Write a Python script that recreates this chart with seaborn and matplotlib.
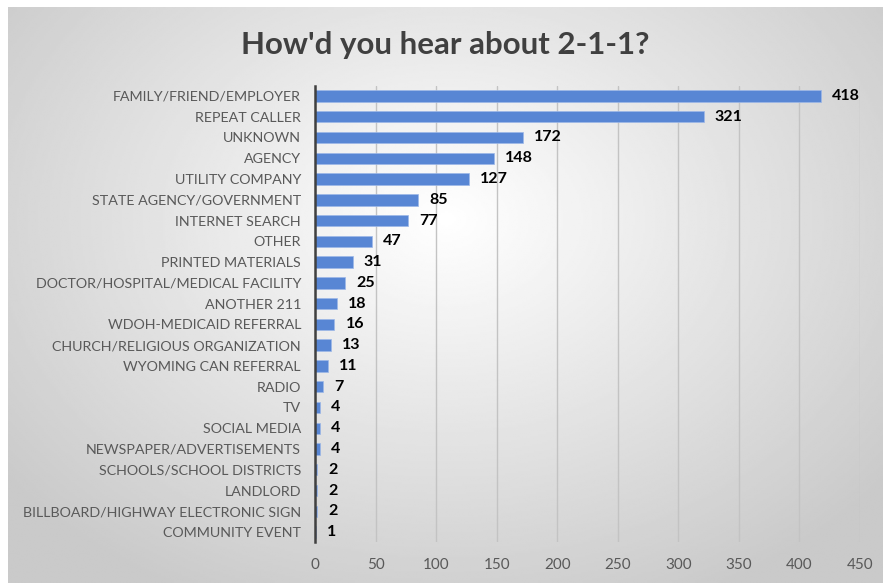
import numpy as np
import pandas as pd
import seaborn as sns
import matplotlib.pyplot as plt

# --- Datos ---
categories = [
    "FAMILY/FRIEND/EMPLOYER", "REPEAT CALLER", "UNKNOWN", "AGENCY",
    "UTILITY COMPANY", "STATE AGENCY/GOVERNMENT", "INTERNET SEARCH", "OTHER",
    "PRINTED MATERIALS", "DOCTOR/HOSPITAL/MEDICAL FACILITY", "ANOTHER 211",
    "WDOH-MEDICAID REFERRAL", "CHURCH/RELIGIOUS ORGANIZATION",
    "WYOMING CAN REFERRAL", "RADIO", "TV", "SOCIAL MEDIA",
    "NEWSPAPER/ADVERTISEMENTS", "SCHOOLS/SCHOOL DISTRICTS", "LANDLORD",
    "BILLBOARD/HIGHWAY ELECTRONIC SIGN", "COMMUNITY EVENT",
]
counts = [418, 321, 172, 148, 127, 85, 77, 47, 31, 25, 18, 16, 13, 11, 7, 4, 4, 4, 2, 2, 2, 1]
x_ticks = [0, 50, 100, 150, 200, 250, 300, 350, 400, 450]

df = pd.DataFrame({"source": categories, "count": counts})

sns.set_theme(style="white")
plt.rcParams["font.family"] = ["Lato", "DejaVu Sans"]

fig = plt.figure(figsize=(8.83, 5.83), dpi=100)

# --- Fondo con degradado radial ---
bg = fig.add_axes([8 / 883, 0, 875 / 883, 576 / 583], zorder=-1)
yy, xx = np.mgrid[0:300, 0:450]
t = np.sqrt(((xx - 225) / 290.0) ** 2 + ((yy - 110) / 220.0) ** 2)
t = np.clip(t, 0, 1)
grad = 1.0 - t * (1.0 - 0.79)
bg.imshow(grad, cmap="gray", vmin=0, vmax=1, aspect="auto", interpolation="bilinear")
bg.axis("off")

# --- Gráfico principal ---
ax = fig.add_axes([315 / 883, 0.0696, 545 / 883, 0.8532 - 0.0696])
ax.set_facecolor("none")
sns.barplot(data=df, x="count", y="source", orient="h", color="#5886D4",
            saturation=1, width=0.55, ax=ax, edgecolor="#9DB8E8", linewidth=0.5)

ax.bar_label(ax.containers[0], labels=[str(v) for v in counts], padding=8,
             fontsize=11.5, fontweight="bold", color="black")

ax.set_xlim(0, 450)
ax.set_xticks(x_ticks)
ax.set_ylim(len(categories) - 0.5, -0.5)
ax.grid(axis="x", color="#C3C3C3", linewidth=1)
ax.set_axisbelow(True)
for side in ["top", "right", "bottom"]:
    ax.spines[side].set_visible(False)
ax.spines["left"].set_color("#404040")
ax.spines["left"].set_linewidth(1.8)
ax.tick_params(axis="both", length=0, labelcolor="#595959")
ax.tick_params(axis="x", pad=11, labelsize=11)
ax.tick_params(axis="y", pad=10, labelsize=10.3)
ax.set_xlabel("")
ax.set_ylabel("")

fig.text(445 / 883, 1 - 45 / 583, "How'd you hear about 2-1-1?", ha="center", va="center",
         fontsize=22.5, fontweight="bold", color="#404040")

fig.savefig("out.png", dpi=100, facecolor="white")
